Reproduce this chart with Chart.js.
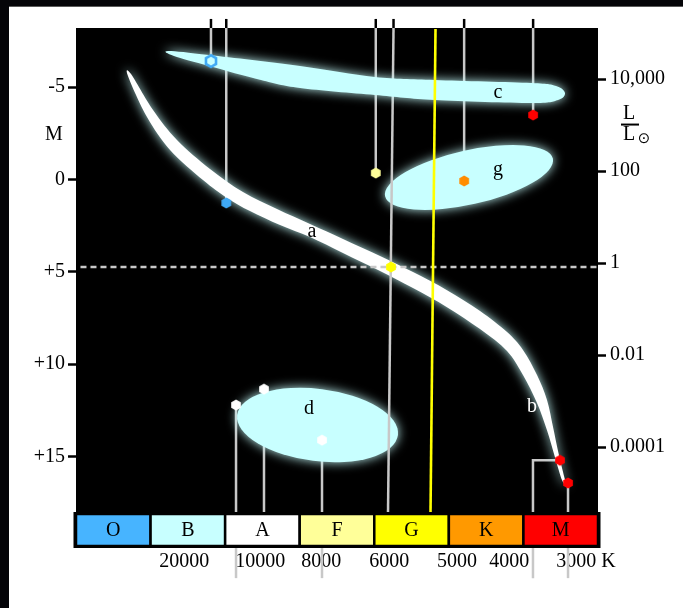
<!DOCTYPE html>
<html>
<head>
<meta charset="utf-8">
<script src="https://cdn.jsdelivr.net/npm/chart.js@4.4.0/dist/chart.umd.min.js"></script>
<style>
  html, body { margin: 0; padding: 0; background: #fff; }
  canvas { display: block; }
</style>
</head>
<body>
<canvas id="hr" width="683" height="608"></canvas>
<script>
// spectral classes, one unit each along x
const classNames = ["O", "B", "A", "F", "G", "K", "M"];
const classColors = ["#47b4ff", "#c8ffff", "#ffffff", "#ffff99", "#ffff00", "#ff9900", "#ff0000"];

// temperature labels under the class bar
const tempPos = [1.45, 2.47, 3.29, 4.2, 5.11, 5.81, 6.84];
const tempLabels = ["20000", "10000", "8000", "6000", "5000", "4000", "3000 K"];

// absolute magnitude (left) and log10 luminosity (right)
const magTicks = [-5, 0, 5, 10, 15];
const magLabels = ["-5", "0", "+5", "+10", "+15"];
const lumTicks = [4, 2, 0, -2, -4];
const lumLabels = ["10,000", "100", "1", "0.01", "0.0001"];

// stars: x in class units, absolute magnitude
const starX = [1.81, 2.015, 4.02, 4.224, 5.205, 6.13, 2.146, 2.521, 3.299, 6.49, 6.598];
const starM = [-6.41, 1.27, -0.35, 4.74, 0.08, -3.49, 12.21, 11.35, 14.11, 15.2, 16.43];
const starColors = ["#3fa9f5", "#3fa9f5", "#ffff99", "#ffff00", "#ff8c00", "#ff0000",
  "#ffffff", "#ffffff", "#ffffff", "#ff0000", "#ff0000"];
const starHollow = [true, false, false, false, false, false, false, false, false, false, false];

// guide lines: from the top edge down to a star [x, M]
const topLines = [[1.81, -6.41], [2.015, 1.27], [4.02, -0.35], [5.205, 0.08], [6.13, -3.49]];
// from below the plot up to a star [x, M, runs under the class bar]
const bottomLines = [[2.146, 12.21, 1], [2.521, 11.35, 0], [3.299, 14.11, 1], [6.598, 16.43, 1]];
const bentLine = [[6.128, 21.58], [6.128, 15.2], [6.49, 15.2]];
const sunLine = [[4.258, -8.69], [4.184, 18]];
const yellowLine = [[4.821, -8.15], [4.754, 18]];
const sunMag = 4.74;
const topEdgeM = -8.69;
const belowBarM = 21.58;

// c: supergiants
const bandC = [
  [1.234, -6.955], [1.784, -6.738], [3.004, -6.143], [4.010, -5.547], [4.814, -5.385],
  [6.102, -5.222], [6.437, -5.06], [6.557, -4.681], [6.464, -4.302], [6.102, -4.139],
  [4.814, -4.302], [4.010, -4.573], [3.004, -4.952], [2.481, -5.385], [1.784, -6.143], [1.314, -6.684]
];
// a + b: main sequence
const bandA = [
  [0.738, -5.71], [1.033, -3.76], [1.354, -2.14], [1.797, -0.57], [2.239, 0.68], [2.695, 1.60],
  [3.138, 2.41], [3.580, 3.22], [4.077, 4.14], [4.519, 5.01], [4.975, 5.99], [5.418, 7.12],
  [5.780, 8.26], [5.994, 9.23], [6.182, 10.59], [6.316, 11.94], [6.397, 13.40], [6.464, 14.70],
  [6.531, 15.84], [6.571, 16.54],
  [6.517, 16.27], [6.423, 15.03], [6.316, 13.57], [6.182, 12.10], [5.994, 10.59], [5.780, 9.29],
  [5.418, 8.10], [4.975, 6.91], [4.519, 5.88], [4.077, 4.96], [3.580, 3.98], [3.138, 3.12],
  [2.736, 2.47], [2.333, 1.71], [2.025, 1.00], [1.703, 0.03], [1.261, -1.60], [0.952, -3.38],
  [0.697, -5.60]
];
// g: giants, d: white dwarfs (centre, end of major axis, end of minor axis)
const ellipseG = { center: [5.270, -0.11], major: [6.395, -1.13], minor: [5.349, 1.32] };
const ellipseD = { center: [3.239, 13.29], major: [4.317, 13.83], minor: [3.180, 15.23] };

const labelText = ["a", "b", "c", "d", "g"];
const labelX = [3.165, 6.115, 5.659, 3.125, 5.659];
const labelM = [2.84, 12.32, -4.68, 12.43, -0.51];
const labelColors = ["#000", "#fff", "#000", "#000", "#000"];

const serif = "'Liberation Serif', 'Times New Roman', serif";
Chart.defaults.font.family = serif;
Chart.defaults.font.size = 20;
Chart.defaults.color = "#000";

function hexIcon(color, hollow) {
  const c = document.createElement("canvas");
  c.width = 16;
  c.height = 16;
  const g = c.getContext("2d");
  const r = hollow ? 5.8 : 5.6;
  g.beginPath();
  for (let k = 0; k < 6; k++) {
    const a = -Math.PI / 2 + (Math.PI / 3) * k;
    const px = 8 + r * Math.cos(a), py = 8 + r * Math.sin(a);
    if (k === 0) g.moveTo(px, py); else g.lineTo(px, py);
  }
  g.closePath();
  if (hollow) {
    g.lineWidth = 2.6;
    g.strokeStyle = color;
    g.stroke();
  } else {
    g.fillStyle = color;
    g.fill();
  }
  return c;
}
const starIcons = starColors.map((c, i) => hexIcon(c, starHollow[i]));

function smoothClosed(ctx, pts) {
  const n = pts.length;
  ctx.moveTo(pts[0][0], pts[0][1]);
  for (let i = 0; i < n; i++) {
    const p0 = pts[(i - 1 + n) % n], p1 = pts[i];
    const p2 = pts[(i + 1) % n], p3 = pts[(i + 2) % n];
    ctx.bezierCurveTo(
      p1[0] + (p2[0] - p0[0]) / 6, p1[1] + (p2[1] - p0[1]) / 6,
      p2[0] - (p3[0] - p1[0]) / 6, p2[1] - (p3[1] - p1[1]) / 6,
      p2[0], p2[1]);
  }
  ctx.closePath();
}

const hrDraw = {
  id: "hrDraw",
  beforeDraw(chart) {
    const ctx = chart.ctx, a = chart.chartArea;
    ctx.save();
    ctx.fillStyle = "#040408";
    ctx.fillRect(0, 0, chart.width, chart.height);
    ctx.fillStyle = "#fff";
    ctx.fillRect(9, 7, chart.width - 9, chart.height - 7);
    ctx.fillStyle = "#5a5a5a";
    ctx.fillRect(9, 6, chart.width - 9, 1);
    ctx.fillStyle = "#000";
    ctx.fillRect(a.left, a.top, a.right - a.left, a.bottom - a.top);
    ctx.restore();
  },
  beforeDatasetsDraw(chart) {
    const ctx = chart.ctx;
    const xs = chart.scales.x, ys = chart.scales.y;
    const P = (p) => [xs.getPixelForValue(p[0]), ys.getPixelForValue(p[1])];
    const seg = (pts, color, width, dash) => {
      ctx.save();
      ctx.strokeStyle = color;
      ctx.lineWidth = width;
      ctx.setLineDash(dash || []);
      ctx.beginPath();
      pts.forEach((p, i) => {
        const q = P(p);
        if (i === 0) ctx.moveTo(q[0], q[1]); else ctx.lineTo(q[0], q[1]);
      });
      ctx.stroke();
      ctx.restore();
    };
    const grey = "#c8c8c8";
    const glowFill = (color, path) => {
      ctx.save();
      ctx.shadowColor = "rgba(200,255,255,0.95)";
      ctx.shadowBlur = 11;
      ctx.fillStyle = color;
      ctx.beginPath();
      path();
      ctx.fill();
      ctx.restore();
    };
    const ellipse = (e) => {
      const c = P(e.center), m = P(e.major), n = P(e.minor);
      const rx = Math.hypot(m[0] - c[0], m[1] - c[1]);
      const ry = Math.hypot(n[0] - c[0], n[1] - c[1]);
      ctx.ellipse(c[0], c[1], rx, ry, Math.atan2(m[1] - c[1], m[0] - c[0]), 0, Math.PI * 2);
    };

    // thin guide lines
    topLines.forEach((l) => seg([[l[0], ys.min], l], grey, 2.5));
    bottomLines.forEach((l) => seg([[l[0], l[2] ? belowBarM : ys.max], l], grey, 2.5));
    seg(bentLine, grey, 2.5);

    // main sequence, giants, white dwarfs
    glowFill("#ffffff", () => smoothClosed(ctx, bandA.map(P)));
    glowFill("#c8ffff", () => ellipse(ellipseG));
    glowFill("#c8ffff", () => ellipse(ellipseD));

    seg([[sunLine[0][0], ys.min], sunLine[1]], grey, 2.5);

    // supergiants
    glowFill("#c8ffff", () => smoothClosed(ctx, bandC.map(P)));

    // magnitude of the Sun
    seg([[0.06, sunMag], [7, sunMag]], grey, 2.5, [6, 4]);
    seg(yellowLine, "#ffff00", 2.6);

    // short black marks above the plot
    topLines.concat([sunLine[0]]).forEach((l) => seg([[l[0], topEdgeM], [l[0], ys.min]], "#000", 2.5));
  },
  afterDatasetsDraw(chart) {
    const ctx = chart.ctx, a = chart.chartArea;
    const xs = chart.scales.x, ys = chart.scales.y;
    ctx.save();
    ctx.font = "20px " + serif;
    ctx.textAlign = "center";
    ctx.textBaseline = "middle";
    labelText.forEach((t, i) => {
      ctx.fillStyle = labelColors[i];
      ctx.fillText(t, xs.getPixelForValue(labelX[i]), ys.getPixelForValue(labelM[i]));
    });

    // spectral class bar
    const top = a.bottom + 2, h = 32;
    classNames.forEach((name, i) => {
      const x0 = xs.getPixelForValue(i), x1 = xs.getPixelForValue(i + 1);
      ctx.fillStyle = classColors[i];
      ctx.fillRect(x0, top, x1 - x0, h);
      ctx.strokeStyle = "#000";
      ctx.lineWidth = 2.5;
      ctx.strokeRect(x0, top, x1 - x0, h);
      ctx.fillStyle = "#000";
      ctx.fillText(name, (x0 + x1) / 2, top + h / 2 + 1);
    });
    ctx.lineWidth = 3;
    ctx.strokeRect(a.left - 1, top - 0.5, a.right - a.left + 2, h + 1);

    // axis names
    ctx.fillStyle = "#000";
    ctx.fillText("M", a.left - 22, ys.getPixelForValue(-2.41));
    const lx = a.right + 31, ly = ys.getPixelForValue(-3.0);
    ctx.fillText("L", lx, ly - 10);
    ctx.fillRect(lx - 8, ly - 0.5, 18, 2);
    ctx.fillText("L", lx, ly + 11);
    ctx.font = "15px 'DejaVu Sans'";
    ctx.fillText("\u2299", lx + 15, ly + 15);
    ctx.restore();
  }
};

new Chart(document.getElementById("hr"), {
  type: "scatter",
  data: {
    datasets: [{
      data: starX.map((x, i) => ({ x: x, y: starM[i] })),
      pointStyle: starIcons,
      yAxisID: "y"
    }]
  },
  options: {
    responsive: false,
    animation: false,
    events: [],
    layout: { padding: { top: 28, left: 0, right: 0, bottom: 0 } },
    plugins: { legend: { display: false }, tooltip: { enabled: false } },
    scales: {
      x: {
        type: "linear",
        min: 0,
        max: 7,
        grid: { display: false, drawTicks: false },
        border: { display: false },
        afterBuildTicks: (s) => { s.ticks = tempPos.map((v) => ({ value: v })); },
        afterFit: (s) => { s.height = 96; },
        ticks: {
          padding: 38,
          autoSkip: false,
          maxRotation: 0,
          callback: (v, i) => tempLabels[i]
        }
      },
      y: {
        type: "linear",
        position: "left",
        reverse: true,
        min: -8.2,
        max: 18,
        grid: { drawOnChartArea: false, tickLength: 8, tickWidth: 2.5, tickColor: "#000" },
        border: { display: false },
        afterBuildTicks: (s) => { s.ticks = magTicks.map((v) => ({ value: v })); },
        afterFit: (s) => { s.width = 76; },
        ticks: { padding: 3, callback: (v, i) => magLabels[i] }
      },
      yL: {
        type: "linear",
        position: "right",
        min: -5.41,
        max: 5.11,
        grid: { drawOnChartArea: false, tickLength: 8, tickWidth: 2.5, tickColor: "#000" },
        border: { display: false },
        afterBuildTicks: (s) => { s.ticks = lumTicks.map((v) => ({ value: v })); },
        afterFit: (s) => { s.width = 85; },
        ticks: { padding: 4, callback: (v, i) => lumLabels[i] }
      }
    }
  },
  plugins: [hrDraw]
});
</script>
</body>
</html>
